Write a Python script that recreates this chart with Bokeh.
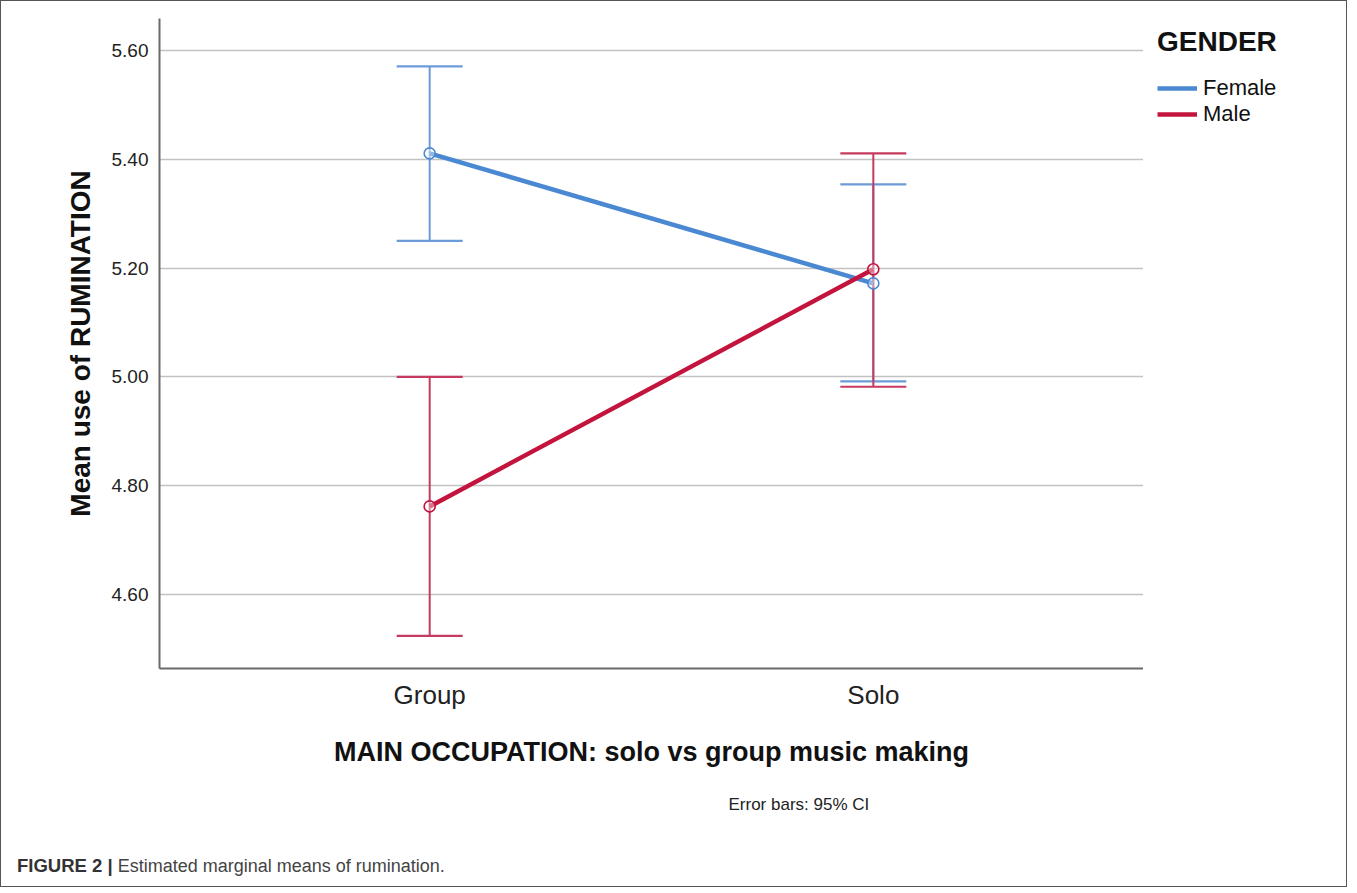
from bokeh.plotting import figure
from bokeh.models import (ColumnDataSource, Whisker, TeeHead, FixedTicker, PrintfTickFormatter,
                          Legend, LegendItem, Title, Range1d, Div)
from bokeh.layouts import column, row
from bokeh.embed import file_html
from bokeh.resources import INLINE

categories = ["Group", "Solo"]
series_names = ["Female", "Male"]
female_mean = [5.411, 5.172]
female_lower = [5.250, 4.992]
female_upper = [5.571, 5.354]
male_mean = [4.762, 5.198]
male_lower = [4.524, 4.982]
male_upper = [5.000, 5.411]
y_ticks = [4.6, 4.8, 5.0, 5.2, 5.4, 5.6]
legend_title = "GENDER"
x_title = "MAIN OCCUPATION: solo vs group music making"
y_title = "Mean use of RUMINATION"
note = "Error bars: 95% CI"
caption_bold = "FIGURE 2 |"
caption_text = "Estimated marginal means of rumination."

FONT = "Liberation Sans"
BLUE = "#4a88d2"
RED = "#c3143d"
BLUE_EB = "#6b9bd8"
RED_EB = "#c63a5f"
H = 849
TOP = 17
BOTTOM = 182

xs = [i + 1 for i in range(len(categories))]

p = figure(width=1142, height=H, output_backend="svg", toolbar_location=None,
           x_range=Range1d(0.391, 2.609), y_range=Range1d(4.464, 5.659),
           min_border_left=158, min_border_right=0, min_border_top=TOP, min_border_bottom=BOTTOM)
p.outline_line_color = None
p.background_fill_color = "white"
p.border_fill_color = "white"

# axes
p.xaxis.ticker = FixedTicker(ticks=xs)
p.xaxis.major_label_overrides = {x: c for x, c in zip(xs, categories)}
p.yaxis.ticker = FixedTicker(ticks=y_ticks)
p.yaxis.formatter = PrintfTickFormatter(format="%.2f")
for ax in (p.xaxis[0], p.yaxis[0]):
    ax.axis_line_color = "#6a6a6a"
    ax.axis_line_width = 2
    ax.major_tick_line_color = None
    ax.minor_tick_line_color = None
    ax.major_label_text_font = FONT
    ax.major_label_text_color = "#222222"
    ax.axis_label_text_font = FONT
    ax.axis_label_text_font_style = "bold"
    ax.axis_label_text_color = "#111111"
    ax.axis_label_text_font_size = "27px"
p.yaxis.major_label_text_font_size = "19px"
p.yaxis.major_label_standoff = 5
p.yaxis.axis_label = y_title
p.yaxis.axis_label_text_font_size = "28px"
p.yaxis.axis_label_standoff = 13
p.xaxis.major_label_text_font_size = "26px"
p.xaxis.major_label_standoff = 5
p.xaxis.axis_label = x_title
p.xaxis.axis_label_standoff = 24

p.xgrid.grid_line_color = None
p.ygrid.ticker = FixedTicker(ticks=y_ticks)
p.ygrid.grid_line_color = "#c2c2c2"
p.ygrid.grid_line_width = 1.5

# error bars
src_f = ColumnDataSource(dict(x=xs, m=female_mean, lo=female_lower, hi=female_upper))
src_m = ColumnDataSource(dict(x=xs, m=male_mean, lo=male_lower, hi=male_upper))
for src, col in ((src_f, BLUE_EB), (src_m, RED_EB)):
    w = Whisker(source=src, base="x", upper="hi", lower="lo", line_color=col, line_width=2,
                upper_head=TeeHead(size=66, line_color=col, line_width=2.2),
                lower_head=TeeHead(size=66, line_color=col, line_width=2.2))
    p.add_layout(w)

# lines and markers
p.line("x", "m", source=src_f, line_color=BLUE, line_width=4.5)
p.scatter("x", "m", source=src_f, marker="circle", size=11, fill_color="white", fill_alpha=0.4,
          line_color=BLUE, line_width=1.6)
p.line("x", "m", source=src_m, line_color=RED, line_width=4.5)
p.scatter("x", "m", source=src_m, marker="circle", size=11, fill_color="white", fill_alpha=0.4,
          line_color=RED, line_width=1.6)

p.add_layout(Title(text=note, text_font=FONT, text_font_size="17px", text_font_style="normal",
                   text_color="#222222", align="left", offset=569, standoff=46), "below")

# legend panel (separate canvas to the right of the plot; its x range keeps the
# series themselves out of view so that only the legend shows)
lg = figure(width=203, height=H, output_backend="svg", toolbar_location=None,
            x_axis_location=None, y_axis_location=None,
            x_range=Range1d(-3, -2), y_range=Range1d(4.464, 5.659),
            min_border_left=6, min_border_right=0, min_border_top=TOP, min_border_bottom=BOTTOM)
lg.outline_line_color = None
lg.xgrid.visible = False
lg.ygrid.visible = False
lg.border_fill_color = "white"
lf = lg.line("x", "m", source=src_f, line_color=BLUE, line_width=4.5)
lm = lg.line("x", "m", source=src_m, line_color=RED, line_width=4.5)
legend = Legend(items=[LegendItem(label=series_names[0], renderers=[lf]),
                       LegendItem(label=series_names[1], renderers=[lm])],
                title=legend_title, title_text_font=FONT, title_text_font_style="bold",
                title_text_font_size="28px", title_text_color="#111111", title_standoff=17,
                label_text_font=FONT, label_text_font_size="22px", label_text_color="#111111",
                glyph_width=40, glyph_height=20, label_height=20, spacing=0, label_standoff=6,
                border_line_color=None, background_fill_alpha=0, location="top_left",
                margin=8, padding=0)
lg.add_layout(legend, "center")

cap = Div(text=f'<span style="font-weight:bold;color:#333;font-size:18.5px">{caption_bold}</span> {caption_text}',
          width=1345, height=36,
          styles={"font-family": FONT, "font-size": "18px", "color": "#444",
                  "padding-left": "16px", "line-height": "32px", "margin": "0"})

lay = column(row(p, lg, spacing=0), cap, spacing=0,
             styles={"border": "1px solid #555", "background": "white"})

open("out.html", "w").write(file_html(lay, INLINE))
